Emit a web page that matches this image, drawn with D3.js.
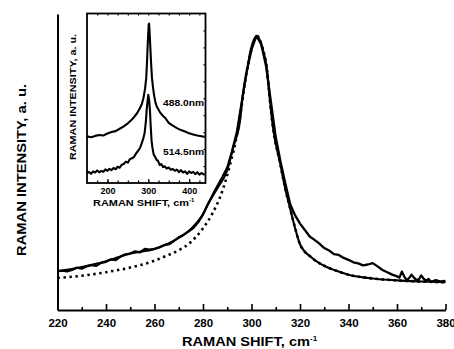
<!DOCTYPE html>
<html>
<head>
<meta charset="utf-8">
<script src="https://cdn.jsdelivr.net/npm/d3@7"></script>
<style>
  body { margin: 0; background: #fff; }
  svg { display: block; font-family: "Liberation Sans", Arial, sans-serif; font-weight: bold; }
</style>
</head>
<body>
<div id="chart"></div>
<script>
// main panel: Raman shift (cm-1) vs intensity (a.u.)
const mainTicks = [220, 240, 260, 280, 300, 320, 340, 360, 380];
const mainMinor = [230, 250, 270, 290, 310, 330, 350, 370];

const expShift = [220, 222, 224, 226, 228, 230, 232, 234, 236, 238, 240, 242, 244, 246, 248, 250, 252, 254, 256, 258,
  260, 262, 264, 266, 268, 270, 272, 274, 276, 278, 280, 282, 284, 286, 288, 290, 292, 294, 296, 298,
  300, 302, 304, 306, 308, 310, 312, 314, 316, 318, 320, 322, 324, 326, 328, 330, 332, 334, 336, 338,
  340, 342, 344, 346, 348, 350, 352, 354, 356, 358, 360, 361, 362, 363, 364, 365, 366, 367, 368, 369,
  370, 371, 372, 373, 374, 376, 378, 380];
const expValue = [14.2, 14.4, 14.1, 14.6, 15.5, 15.1, 15.9, 16.4, 16.1, 17.2, 17.6, 18.5, 18.2, 19.5, 20.3, 20.6, 21.4, 21.0, 22.3, 22.0,
  22.3, 22.8, 23.7, 24.0, 25.2, 26.5, 27.4, 28.6, 29.9, 32.0, 34.8, 38.5, 42.0, 45.3, 48.5, 52.0, 58.0, 65.0, 76.0, 87.0,
  95.0, 100, 97.0, 89.0, 76.0, 63.0, 54.0, 46.0, 38.5, 34.5, 31.5, 29.2, 26.8, 25.6, 24.2, 22.6, 21.7, 20.4, 20.1, 19.0,
  18.3, 17.4, 17.0, 16.3, 16.6, 17.1, 15.9, 14.6, 13.8, 12.9, 12.3, 11.8, 14.0, 12.2, 10.9, 11.6, 12.9, 11.8, 10.9, 11.2,
  12.6, 11.4, 10.7, 11.3, 10.3, 10.9, 10.4, 10.6];

const fitShift = [220, 230, 240, 250, 260, 270, 275, 280, 282, 286, 290, 292.5, 295.3, 296.5, 298.2, 299.4, 302.3,
  304.4, 306.4, 307.7, 309, 311.8, 313.8, 316, 318, 320, 325, 331, 335, 340, 350, 360, 370, 380];
const fitValue = [14.1, 15.7, 17.8, 20.6, 22.3, 26.3, 29.6, 35.0, 38.6, 44.5, 51.0, 59.5, 69.3, 79.0, 87.6, 93.8, 100,
  96.0, 87.6, 75.5, 65.7, 53.6, 44.8, 36.8, 29.8, 24.0, 19.0, 15.7, 14.3, 12.9, 11.5, 10.8, 10.4, 10.1];

const lorShift = [220, 230, 240, 250, 260, 265, 270, 275, 280, 284, 288, 291, 294, 296, 298, 300, 302.3,
  304.4, 306.4, 307.7, 309, 311.8, 313.8, 316, 318, 320, 325, 331, 335, 340, 350, 360, 370, 380];
const lorValue = [11.7, 12.5, 13.8, 15.5, 18.0, 19.8, 21.8, 24.8, 29.8, 35.4, 43.5, 52.5, 64.0, 75.0, 87.0, 95.0, 100,
  96.0, 87.6, 75.5, 65.7, 53.6, 44.8, 36.8, 29.8, 24.0, 19.0, 15.7, 14.3, 12.9, 11.5, 10.8, 10.4, 10.1];

// inset: two excitation wavelengths
const insetTicks = [200, 300, 400];
const insetLabels = ["488.0nm", "514.5nm"];

const blueShift = [150, 160, 170, 180, 190, 200, 210, 220, 230, 240, 250, 258, 265, 272, 278, 284, 288, 292, 295, 297,
  299, 301, 302, 303, 305, 307, 309, 311, 314, 318, 322, 328, 335, 342, 350, 360, 370, 380, 390, 400,
  410, 420, 430, 438];
const blueValue = [27.5, 27.0, 27.8, 28.3, 28.0, 29.2, 30.1, 30.6, 32.0, 33.4, 35.2, 37.0, 38.8, 41.0, 43.5, 46.5, 50.0, 55.5, 62.0, 72.0,
  84.0, 93.5, 94.0, 90.0, 80.0, 70.0, 62.0, 57.5, 52.0, 47.0, 44.5, 42.0, 39.8, 38.2, 35.5, 33.8, 32.4, 31.2, 30.4, 29.3,
  28.6, 28.0, 27.6, 27.2];

const greenShift = [150, 155, 160, 165, 170, 175, 180, 185, 190, 195, 200, 205, 210, 215, 220, 225, 230, 235, 240, 245,
  250, 255, 260, 265, 270, 275, 280, 284, 288, 291, 294, 296, 298, 300, 302, 304, 306, 308, 310, 313,
  316, 320, 324, 328, 332, 336, 340, 345, 350, 355, 360, 365, 370, 375, 380, 385, 390, 395, 400, 405,
  410, 415, 420, 425, 430, 438];
const greenValue = [5.8, 6.5, 5.4, 6.9, 6.2, 7.4, 6.3, 7.1, 6.6, 8.0, 7.2, 8.4, 7.6, 8.9, 8.1, 9.6, 9.0, 10.8, 11.2, 12.6,
  12.0, 14.1, 14.6, 15.3, 17.4, 18.9, 20.8, 23.5, 26.5, 29.5, 36.0, 43.0, 48.0, 52.0, 49.0, 43.0, 33.0, 25.0, 21.0, 17.0,
  15.6, 13.8, 12.9, 10.6, 11.2, 9.4, 9.9, 8.6, 9.1, 7.8, 8.3, 7.2, 7.9, 6.4, 7.6, 6.2, 6.9, 5.4, 6.8, 5.9,
  6.6, 5.2, 6.4, 4.9, 5.9, 4.8];

const width = 454;
const height = 349;

const svg = d3.select("#chart").append("svg")
  .attr("width", width)
  .attr("height", height);

const x = d3.scaleLinear().domain([220, 380]).range([57.5, 445.5]);
const y = d3.scaleLinear().domain([0, 108]).range([310, 14]);

const zip = (xs, ys) => xs.map((v, i) => [v, ys[i]]);

const line = d3.line().x((d) => x(d[0])).y((d) => y(d[1]));
const smooth = d3.line().x((d) => x(d[0])).y((d) => y(d[1])).curve(d3.curveMonotoneX);

// axes
svg.append("g")
  .attr("transform", "translate(0,310)")
  .call(d3.axisBottom(x).tickValues(mainMinor).tickSize(-3).tickSizeOuter(0).tickFormat(""))
  .call((g) => g.select(".domain").remove());

const xAxis = svg.append("g")
  .attr("transform", "translate(0,310)")
  .call(d3.axisBottom(x).tickValues(mainTicks).tickSize(-6).tickSizeOuter(0).tickPadding(9));
xAxis.selectAll("text")
  .attr("font-size", 11.5)
  .attr("font-weight", "bold")
  .attr("font-family", "Liberation Sans, Arial, sans-serif")
  .attr("fill", "#000");

svg.append("g")
  .attr("transform", "translate(57.5,0)")
  .call(d3.axisLeft(y).tickValues([]).tickSizeOuter(0));

svg.selectAll(".domain").attr("stroke", "#000").attr("stroke-width", 2);
svg.selectAll(".tick line").attr("stroke", "#000").attr("stroke-width", 1.6);

// curves
svg.append("path")
  .datum(zip(lorShift, lorValue))
  .attr("d", smooth)
  .attr("fill", "none")
  .attr("stroke", "#000")
  .attr("stroke-width", 2.6)
  .attr("stroke-dasharray", "2.4,3.6");

svg.append("path")
  .datum(zip(fitShift, fitValue))
  .attr("d", smooth)
  .attr("fill", "none")
  .attr("stroke", "#000")
  .attr("stroke-width", 2.1);

svg.append("path")
  .datum(zip(expShift, expValue))
  .attr("d", line)
  .attr("fill", "none")
  .attr("stroke", "#000")
  .attr("stroke-width", 2.3)
  .attr("stroke-linejoin", "round");

// axis titles
const xTitle = svg.append("text")
  .attr("x", 182)
  .attr("y", 346)
  .attr("font-size", 12.5);
xTitle.append("tspan")
  .attr("textLength", 128)
  .attr("lengthAdjust", "spacingAndGlyphs")
  .text("RAMAN SHIFT, cm");
xTitle.append("tspan").attr("font-size", 8).attr("dy", -5).text("-1");

svg.append("text")
  .attr("transform", "translate(26,170) rotate(-90)")
  .attr("text-anchor", "middle")
  .attr("font-size", 12.5)
  .attr("textLength", 172)
  .attr("lengthAdjust", "spacingAndGlyphs")
  .text("RAMAN INTENSITY, a. u.");

// inset
const ix = d3.scaleLinear().domain([150, 440]).range([87, 205.5]);
const iy = d3.scaleLinear().domain([0, 100]).range([183, 13.5]);

const inset = svg.append("g");

inset.append("rect")
  .attr("x", ix.range()[0])
  .attr("y", iy.range()[1])
  .attr("width", ix.range()[1] - ix.range()[0])
  .attr("height", iy.range()[0] - iy.range()[1])
  .attr("fill", "#fff")
  .attr("stroke", "#000")
  .attr("stroke-width", 1.8);

inset.append("g")
  .attr("transform", "translate(0,183)")
  .call(d3.axisBottom(ix).tickValues(d3.range(175, 440, 25)).tickSize(-2.5).tickFormat(""));
inset.append("g")
  .attr("transform", `translate(0,${iy.range()[1]})`)
  .call(d3.axisTop(ix).tickValues(d3.range(175, 440, 25)).tickSize(-2).tickFormat(""));
inset.append("g")
  .attr("transform", `translate(${ix.range()[1]},0)`)
  .call(d3.axisRight(iy).tickValues(d3.range(10, 100, 10)).tickSize(-2).tickFormat(""));

const iAxis = inset.append("g")
  .attr("transform", "translate(0,183)")
  .call(d3.axisBottom(ix).tickValues(insetTicks).tickSize(-4).tickSizeOuter(0).tickPadding(5));
iAxis.selectAll("text")
  .attr("font-size", 9)
  .attr("font-weight", "bold")
  .attr("font-family", "Liberation Sans, Arial, sans-serif")
  .attr("fill", "#000");
inset.selectAll(".domain").remove();
inset.selectAll(".tick line").attr("stroke", "#000").attr("stroke-width", 1.2);

const iline = d3.line().x((d) => ix(d[0])).y((d) => iy(d[1]));

inset.append("path")
  .datum(zip(blueShift, blueValue))
  .attr("d", iline)
  .attr("fill", "none")
  .attr("stroke", "#000")
  .attr("stroke-width", 2.1)
  .attr("stroke-linejoin", "round");

inset.append("path")
  .datum(zip(greenShift, greenValue))
  .attr("d", iline)
  .attr("fill", "none")
  .attr("stroke", "#000")
  .attr("stroke-width", 2.1)
  .attr("stroke-linejoin", "round");

inset.selectAll("text.wl")
  .data(insetLabels)
  .join("text")
  .attr("class", "wl")
  .attr("x", 204)
  .attr("y", (d, i) => (i === 0 ? 106 : 155))
  .attr("text-anchor", "end")
  .attr("font-size", 8.5)
  .attr("textLength", 41)
  .attr("lengthAdjust", "spacingAndGlyphs")
  .text((d) => d);

const ixTitle = inset.append("text")
  .attr("x", 93)
  .attr("y", 206)
  .attr("font-size", 9.5);
ixTitle.append("tspan")
  .attr("textLength", 96)
  .attr("lengthAdjust", "spacingAndGlyphs")
  .text("RAMAN SHIFT, cm");
ixTitle.append("tspan").attr("font-size", 6).attr("dy", -4).text("-1");

inset.append("text")
  .attr("transform", "translate(76,97) rotate(-90)")
  .attr("text-anchor", "middle")
  .attr("font-size", 8.5)
  .attr("textLength", 126)
  .attr("lengthAdjust", "spacingAndGlyphs")
  .text("RAMAN INTENSITY, a. u.");
</script>
</body>
</html>
